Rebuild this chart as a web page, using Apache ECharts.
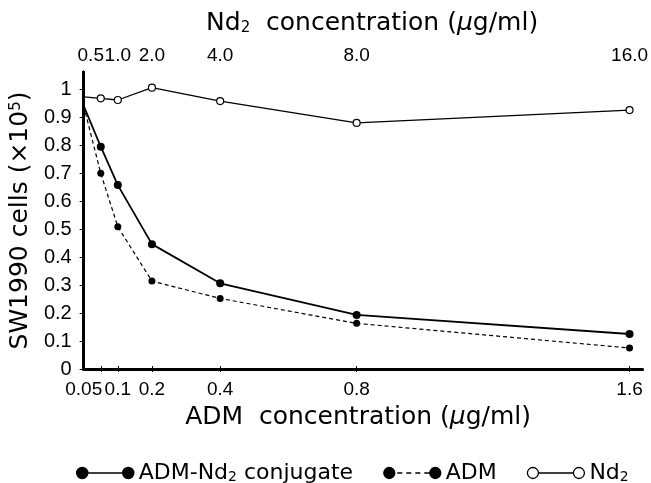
<!DOCTYPE html>
<html>
<head>
<meta charset="utf-8">
<script src="https://cdn.jsdelivr.net/npm/echarts@6/dist/echarts.min.js"></script>
<style>
  html, body { margin: 0; padding: 0; background: #fff; }
  #chart { width: 651px; height: 483px; }
</style>
</head>
<body>
<div id="chart"></div>
<script>
// ADM concentration (ug/ml), bottom axis; first point is the untreated control at 0
const admDose = [0, 0.05, 0.1, 0.2, 0.4, 0.8, 1.6];
// Nd2 concentration (ug/ml), top axis
const nd2Dose = [0, 0.5, 1.0, 2.0, 4.0, 8.0, 16.0];

// cell counts (x10^5)
const conjugate = [0.94, 0.794, 0.657, 0.446, 0.306, 0.193, 0.125];
const adm = [0.94, 0.699, 0.508, 0.314, 0.252, 0.163, 0.075];
const nd2 = [0.972, 0.967, 0.961, 1.005, 0.957, 0.879, 0.925];

const admTicks = [0.05, 0.1, 0.2, 0.4, 0.8, 1.6];
const nd2Ticks = [0.5, 1.0, 2.0, 4.0, 8.0, 16.0];
const yTicks = [0, 0.1, 0.2, 0.3, 0.4, 0.5, 0.6, 0.7, 0.8, 0.9, 1];

const tickFont = '"Liberation Sans", Arial, sans-serif';
const textFont = '"DejaVu Sans", sans-serif';

// the control point sits on the axis, no marker there
function pairs(xs, ys) {
  return xs.map((x, i) => i === 0 ? { value: [x, ys[i]], symbol: 'none' } : [x, ys[i]]);
}

// legend icons: dot - line - dot
const dot = (cx) => `M${cx - 5.5},6 a5.5,5.5 0 1,0 11,0 a5.5,5.5 0 1,0 -11,0 Z`;
const iconSolid = 'path://' + dot(6) + ' ' + dot(52) + ' M11.5,6 L46.5,6';
const iconDash = 'path://' + dot(6) + ' ' + dot(52) + ' M14,6 L19,6 M23,6 L28,6 M32,6 L37,6 M41,6 L46.5,6';

const chart = echarts.init(document.getElementById('chart'), null, { renderer: 'canvas' });

const nameRich = {
  sub: { fontSize: 15, fontFamily: textFont, padding: [9, 0, 0, 0] },
  sup: { fontSize: 15, fontFamily: textFont, padding: [0, 0, 9, 0] },
  mu: { fontSize: 25, fontFamily: textFont, fontStyle: 'italic' }
};

const tickLabel = { color: '#000', fontSize: 19, fontFamily: tickFont, showMinLabel: true, showMaxLabel: true, hideOverlap: false };

// the first label of each x axis sits left of its tick (crowded); drawn on an overlay axis
function firstLabelAxis(pos, max, value, text, shift, margin) {
  return {
    type: 'value',
    position: pos,
    min: 0,
    max: max,
    axisLine: { show: false },
    axisTick: { show: false },
    splitLine: { show: false },
    axisLabel: Object.assign({}, tickLabel, {
      customValues: [value],
      margin: margin,
      formatter: () => '{l|' + text + '}',
      rich: { l: { fontSize: 19, fontFamily: tickFont, padding: [0, shift, 0, 0] } }
    })
  };
}

chart.setOption({
  animation: false,
  backgroundColor: '#fff',
  grid: { left: 82, right: 8, top: 72, bottom: 114, containLabel: false },
  xAxis: [
    {
      type: 'value',
      position: 'bottom',
      min: 0,
      max: 1.638,
      name: 'ADM  concentration ({mu|μ}g/ml)',
      nameLocation: 'middle',
      nameGap: 36,
      nameTextStyle: { color: '#000', fontSize: 25, fontFamily: textFont, rich: nameRich, padding: [0, 10, 0, 0] },
      axisLine: { lineStyle: { color: '#000', width: 3 } },
      axisTick: { show: true, length: 3, customValues: admTicks, lineStyle: { color: '#000' } },
      axisLabel: Object.assign({}, tickLabel, {
        customValues: admTicks.slice(1),
        margin: 11,
        formatter: v => String(v)
      }),
      splitLine: { show: false }
    },
    {
      type: 'value',
      position: 'top',
      min: 0,
      max: 16.38,
      name: 'Nd{sub|2}  concentration ({mu|μ}g/ml)',
      nameLocation: 'middle',
      nameGap: 36,
      nameTextStyle: { color: '#000', fontSize: 25, fontFamily: textFont, rich: nameRich, padding: [0, 0, 0, 18] },
      axisLine: { lineStyle: { color: '#000', width: 2.5 } },
      axisTick: { show: true, length: 3, customValues: nd2Ticks, lineStyle: { color: '#000' } },
      axisLabel: Object.assign({}, tickLabel, {
        customValues: nd2Ticks.slice(1),
        margin: 7,
        formatter: v => v.toFixed(1)
      }),
      splitLine: { show: false }
    },
    firstLabelAxis('bottom', 1.638, admTicks[0], '0.05', 34, 11),
    firstLabelAxis('top', 16.38, nd2Ticks[0], '0.5', 20, 7)
  ],
  yAxis: [
    {
      type: 'value',
      position: 'left',
      min: 0,
      max: 1.061,
      name: 'SW1990 cells (×10{sup|5})',
      nameLocation: 'middle',
      nameGap: 45,
      nameTextStyle: { color: '#000', fontSize: 25, fontFamily: textFont, rich: nameRich },
      axisLine: { show: true, lineStyle: { color: '#000', width: 3 } },
      axisTick: { show: true, length: 4, customValues: yTicks, lineStyle: { color: '#000' } },
      axisLabel: Object.assign({}, tickLabel, {
        customValues: yTicks,
        fontSize: 20,
        margin: 12,
        formatter: v => String(v)
      }),
      splitLine: { show: false }
    },
    {
      type: 'value',
      position: 'right',
      min: 0,
      max: 1.061,
      axisLine: { show: true, lineStyle: { color: '#000', width: 2.5 } },
      axisTick: { show: false },
      axisLabel: { show: false },
      splitLine: { show: false }
    }
  ],
  legend: {
    left: 71,
    top: 457,
    itemWidth: 57,
    itemHeight: 12,
    itemGap: 30,
    textStyle: { color: '#000', fontSize: 22, fontFamily: textFont, rich: { sub: { fontSize: 14, fontFamily: textFont, padding: [8, 0, 0, 0] } } },
    formatter: n => n.replace('Nd2', 'Nd{sub|2}'),
    data: [
      { name: 'ADM-Nd2 conjugate', icon: iconSolid, itemStyle: { color: '#000', borderColor: '#000', borderWidth: 1.5 } },
      { name: 'ADM', icon: iconDash, itemStyle: { color: '#000', borderColor: '#000', borderWidth: 1.3 } },
      { name: 'Nd2', icon: iconSolid, itemStyle: { color: '#fff', borderColor: '#000', borderWidth: 1.3 } }
    ]
  },
  series: [
    {
      name: 'ADM-Nd2 conjugate',
      type: 'line',
      xAxisIndex: 0,
      yAxisIndex: 0,
      data: pairs(admDose, conjugate),
      symbol: 'circle',
      symbolSize: 8,
      itemStyle: { color: '#000' },
      lineStyle: { color: '#000', width: 1.8 }
    },
    {
      name: 'ADM',
      type: 'line',
      xAxisIndex: 0,
      yAxisIndex: 0,
      data: pairs(admDose, adm),
      symbol: 'circle',
      symbolSize: 7,
      itemStyle: { color: '#000' },
      lineStyle: { color: '#000', width: 1.2, type: [4, 3] }
    },
    {
      name: 'Nd2',
      type: 'line',
      xAxisIndex: 1,
      yAxisIndex: 0,
      data: pairs(nd2Dose, nd2),
      symbol: 'circle',
      symbolSize: 7,
      itemStyle: { color: '#fff', borderColor: '#000', borderWidth: 1.2 },
      lineStyle: { color: '#000', width: 1.3 }
    }
  ]
});
</script>
</body>
</html>
